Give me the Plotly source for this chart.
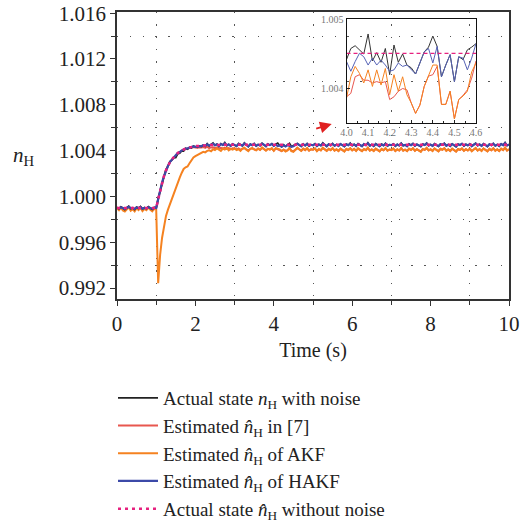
import numpy as np
import plotly.graph_objects as go

# ---------------- data ----------------
N_SAMPLES = 201  # 0 .. 10 s, 0.05 s step
TIME = np.round(np.arange(N_SAMPLES) * 0.05, 2)

ACTUAL_NOISY = [
    0.99905, 0.99892, 0.99910, 0.99898, 0.99884, 0.99902, 0.99915, 0.99893, 0.99900, 0.99886,
    0.99908, 0.99896, 0.99912, 0.99889, 0.99903, 0.99894, 0.99911, 0.99897, 0.99887, 0.99905,
    0.99898, 0.99982, 1.00048, 1.00130, 1.00175, 1.00235, 1.00262, 1.00305, 1.00318, 1.00340,
    1.00338, 1.00372, 1.00376, 1.00398, 1.00395, 1.00420, 1.00412, 1.00430, 1.00422, 1.00440,
    1.00435, 1.00428, 1.00442, 1.00436, 1.00450, 1.00438, 1.00462, 1.00440, 1.00455, 1.00468,
    1.00445, 1.00458, 1.00437, 1.00462, 1.00449, 1.00471, 1.00444, 1.00456, 1.00439, 1.00460,
    1.00448, 1.00437, 1.00463, 1.00452, 1.00441, 1.00469, 1.00446, 1.00434, 1.00458, 1.00447,
    1.00462, 1.00439, 1.00454, 1.00443, 1.00466, 1.00450, 1.00436, 1.00459, 1.00448, 1.00461,
    1.00442, 1.00457, 1.00466, 1.00445, 1.00432, 1.00452, 1.00438, 1.00449, 1.00464, 1.00436,
    1.00444, 1.00455, 1.00462, 1.00448, 1.00437, 1.00459, 1.00444, 1.00463, 1.00440, 1.00452,
    1.00446, 1.00461, 1.00438, 1.00455, 1.00443, 1.00468, 1.00450, 1.00436, 1.00457, 1.00445,
    1.00463, 1.00441, 1.00454, 1.00439, 1.00460, 1.00448, 1.00435, 1.00458, 1.00447, 1.00466,
    1.00443, 1.00456, 1.00439, 1.00462, 1.00450, 1.00437, 1.00459, 1.00446, 1.00470, 1.00441,
    1.00453, 1.00438, 1.00461, 1.00449, 1.00436, 1.00457, 1.00445, 1.00464, 1.00440, 1.00452,
    1.00447, 1.00460, 1.00438, 1.00455, 1.00444, 1.00466, 1.00442, 1.00451, 1.00437, 1.00459,
    1.00448, 1.00463, 1.00440, 1.00456, 1.00445, 1.00434, 1.00458, 1.00449, 1.00467, 1.00443,
    1.00454, 1.00439, 1.00461, 1.00447, 1.00436, 1.00458, 1.00450, 1.00465, 1.00441, 1.00453,
    1.00438, 1.00460, 1.00446, 1.00433, 1.00457, 1.00449, 1.00462, 1.00440, 1.00455, 1.00444,
    1.00459, 1.00437, 1.00452, 1.00466, 1.00443, 1.00456, 1.00439, 1.00461, 1.00448, 1.00435,
    1.00458, 1.00446, 1.00463, 1.00441, 1.00454, 1.00438, 1.00460, 1.00447, 1.00472, 1.00443, 1.00455,
]

EST_REF7 = [
    0.99903, 0.99895, 0.99908, 0.99896, 0.99888, 0.99901, 0.99911, 0.99895, 0.99900, 0.99889,
    0.99906, 0.99897, 0.99909, 0.99891, 0.99901, 0.99895, 0.99908, 0.99898, 0.99890, 0.99903,
    0.99899, 0.99978, 1.00053, 1.00126, 1.00177, 1.00232, 1.00264, 1.00302, 1.00320, 1.00342,
    1.00350, 1.00376, 1.00382, 1.00400, 1.00402, 1.00416, 1.00416, 1.00426, 1.00425, 1.00432,
    1.00428, 1.00425, 1.00430, 1.00427, 1.00432, 1.00424, 1.00435, 1.00422, 1.00428, 1.00430,
    1.00420, 1.00428, 1.00418, 1.00425, 1.00417, 1.00426, 1.00415, 1.00422, 1.00413, 1.00420,
    1.00418, 1.00410, 1.00420, 1.00408, 1.00415, 1.00422, 1.00410, 1.00402, 1.00416, 1.00420,
    1.00412, 1.00405, 1.00417, 1.00408, 1.00423, 1.00413, 1.00403, 1.00415, 1.00410, 1.00418,
    1.00400, 1.00419, 1.00412, 1.00409, 1.00396, 1.00408, 1.00399, 1.00404, 1.00420, 1.00398,
    1.00395, 1.00406, 1.00422, 1.00412, 1.00400, 1.00416, 1.00406, 1.00419, 1.00402, 1.00411,
    1.00409, 1.00418, 1.00398, 1.00413, 1.00404, 1.00422, 1.00410, 1.00400, 1.00415, 1.00405,
    1.00420, 1.00402, 1.00411, 1.00398, 1.00416, 1.00407, 1.00395, 1.00413, 1.00406, 1.00419,
    1.00404, 1.00415, 1.00400, 1.00418, 1.00409, 1.00397, 1.00413, 1.00405, 1.00423, 1.00402,
    1.00411, 1.00399, 1.00416, 1.00406, 1.00395, 1.00413, 1.00404, 1.00420, 1.00401, 1.00410,
    1.00406, 1.00417, 1.00398, 1.00411, 1.00402, 1.00420, 1.00401, 1.00409, 1.00397, 1.00415,
    1.00406, 1.00419, 1.00400, 1.00412, 1.00404, 1.00393, 1.00413, 1.00407, 1.00421, 1.00403,
    1.00411, 1.00399, 1.00417, 1.00405, 1.00395, 1.00414, 1.00408, 1.00420, 1.00401, 1.00410,
    1.00398, 1.00416, 1.00404, 1.00393, 1.00412, 1.00406, 1.00418, 1.00400, 1.00412, 1.00403,
    1.00415, 1.00397, 1.00410, 1.00421, 1.00402, 1.00413, 1.00399, 1.00417, 1.00406, 1.00395,
    1.00414, 1.00404, 1.00419, 1.00401, 1.00411, 1.00398, 1.00416, 1.00405, 1.00424, 1.00402, 1.00412,
]

EST_AKF = [
    0.99895, 0.99880, 0.99902, 0.99878, 0.99868, 0.99890, 0.99905, 0.99875, 0.99888, 0.99870,
    0.99898, 0.99882, 0.99900, 0.99872, 0.99892, 0.99880, 0.99903, 0.99884, 0.99870, 0.99893,
    0.99885, 0.99242, 0.99490, 0.99640, 0.99750, 0.99830, 0.99885, 0.99935, 0.99985, 1.00030,
    1.00075, 1.00120, 1.00165, 1.00205, 1.00240, 1.00255, 1.00262, 1.00290, 1.00318, 1.00340,
    1.00352, 1.00360, 1.00372, 1.00378, 1.00390, 1.00385, 1.00398, 1.00402, 1.00395, 1.00412,
    1.00405, 1.00420, 1.00408, 1.00398, 1.00418, 1.00410, 1.00425, 1.00403, 1.00415, 1.00408,
    1.00420, 1.00405, 1.00412, 1.00398, 1.00418, 1.00425, 1.00408, 1.00395, 1.00415, 1.00422,
    1.00410, 1.00402, 1.00418, 1.00406, 1.00428, 1.00412, 1.00400, 1.00416, 1.00409, 1.00421,
    1.00398, 1.00422, 1.00417, 1.00410, 1.00396, 1.00408, 1.00392, 1.00401, 1.00424, 1.00395,
    1.00390, 1.00405, 1.00426, 1.00410, 1.00398, 1.00418, 1.00405, 1.00422, 1.00400, 1.00412,
    1.00408, 1.00420, 1.00395, 1.00414, 1.00402, 1.00425, 1.00410, 1.00398, 1.00416, 1.00404,
    1.00422, 1.00400, 1.00412, 1.00396, 1.00418, 1.00407, 1.00392, 1.00415, 1.00405, 1.00421,
    1.00402, 1.00416, 1.00398, 1.00420, 1.00409, 1.00395, 1.00414, 1.00404, 1.00426, 1.00400,
    1.00411, 1.00397, 1.00418, 1.00406, 1.00393, 1.00415, 1.00403, 1.00422, 1.00399, 1.00410,
    1.00405, 1.00419, 1.00396, 1.00412, 1.00401, 1.00423, 1.00399, 1.00409, 1.00395, 1.00417,
    1.00406, 1.00421, 1.00398, 1.00413, 1.00403, 1.00390, 1.00415, 1.00407, 1.00424, 1.00401,
    1.00412, 1.00397, 1.00419, 1.00405, 1.00393, 1.00416, 1.00408, 1.00422, 1.00399, 1.00411,
    1.00396, 1.00418, 1.00404, 1.00391, 1.00414, 1.00406, 1.00420, 1.00398, 1.00413, 1.00402,
    1.00417, 1.00395, 1.00410, 1.00424, 1.00401, 1.00414, 1.00397, 1.00419, 1.00406, 1.00393,
    1.00416, 1.00404, 1.00421, 1.00399, 1.00412, 1.00396, 1.00418, 1.00405, 1.00427, 1.00401, 1.00413,
]

EST_HAKF = [
    0.99902, 0.99896, 0.99906, 0.99894, 0.99890, 0.99900, 0.99909, 0.99897, 0.99901, 0.99891,
    0.99904, 0.99899, 0.99907, 0.99893, 0.99900, 0.99896, 0.99906, 0.99899, 0.99892, 0.99902,
    0.99900, 0.99976, 1.00055, 1.00124, 1.00178, 1.00230, 1.00266, 1.00300, 1.00322, 1.00345,
    1.00360, 1.00380, 1.00388, 1.00402, 1.00407, 1.00418, 1.00420, 1.00428, 1.00430, 1.00437,
    1.00432, 1.00433, 1.00440, 1.00439, 1.00447, 1.00442, 1.00455, 1.00444, 1.00452, 1.00460,
    1.00447, 1.00455, 1.00441, 1.00457, 1.00450, 1.00463, 1.00446, 1.00454, 1.00442, 1.00456,
    1.00449, 1.00441, 1.00458, 1.00451, 1.00444, 1.00462, 1.00448, 1.00438, 1.00455, 1.00447,
    1.00458, 1.00442, 1.00452, 1.00445, 1.00461, 1.00450, 1.00440, 1.00456, 1.00448, 1.00457,
    1.00441, 1.00452, 1.00440, 1.00446, 1.00434, 1.00447, 1.00436, 1.00450, 1.00444, 1.00433,
    1.00438, 1.00452, 1.00460, 1.00449, 1.00440, 1.00455, 1.00446, 1.00459, 1.00443, 1.00451,
    1.00447, 1.00457, 1.00441, 1.00453, 1.00445, 1.00462, 1.00450, 1.00440, 1.00455, 1.00446,
    1.00459, 1.00443, 1.00452, 1.00442, 1.00457, 1.00448, 1.00439, 1.00455, 1.00447, 1.00461,
    1.00445, 1.00453, 1.00442, 1.00458, 1.00450, 1.00440, 1.00456, 1.00447, 1.00464, 1.00444,
    1.00451, 1.00441, 1.00457, 1.00449, 1.00439, 1.00454, 1.00446, 1.00460, 1.00443, 1.00451,
    1.00448, 1.00456, 1.00441, 1.00453, 1.00445, 1.00461, 1.00444, 1.00450, 1.00440, 1.00456,
    1.00448, 1.00459, 1.00443, 1.00453, 1.00446, 1.00438, 1.00455, 1.00449, 1.00462, 1.00445,
    1.00452, 1.00442, 1.00458, 1.00447, 1.00439, 1.00455, 1.00450, 1.00461, 1.00444, 1.00452,
    1.00441, 1.00457, 1.00447, 1.00437, 1.00454, 1.00449, 1.00459, 1.00443, 1.00453, 1.00446,
    1.00456, 1.00440, 1.00451, 1.00462, 1.00445, 1.00454, 1.00442, 1.00458, 1.00448, 1.00438,
    1.00455, 1.00447, 1.00460, 1.00443, 1.00452, 1.00441, 1.00457, 1.00448, 1.00466, 1.00445, 1.00453,
]

TRUE_T = [0, 1.0, 1.05, 1.1, 1.15, 1.2, 1.25, 1.3, 1.35, 1.4, 1.45, 1.5, 1.55, 1.6, 1.65,
          1.7, 1.75, 1.8, 1.85, 1.9, 1.95, 2.0, 2.1, 2.2, 2.3, 2.4, 2.6, 3.0, 10.0]
TRUE_V = [0.99900, 0.99900, 0.99975, 1.00052, 1.00122, 1.00180, 1.00228, 1.00267, 1.00298,
          1.00324, 1.00346, 1.00364, 1.00379, 1.00391, 1.00401, 1.00410, 1.00417, 1.00423,
          1.00428, 1.00432, 1.00436, 1.00439, 1.00443, 1.00446, 1.00448, 1.00449, 1.00450,
          1.00451, 1.00451]

# zoomed inset, 4.0 .. 4.6 s at 0.02 s
INSET_T = [4.00, 4.02, 4.04, 4.06, 4.08, 4.10, 4.12, 4.14, 4.16, 4.18, 4.20, 4.22, 4.24, 4.26,
           4.28, 4.30, 4.32, 4.34, 4.36, 4.38, 4.40, 4.42, 4.44, 4.46, 4.48, 4.50, 4.52, 4.54,
           4.56, 4.58, 4.60]
INSET_BLACK = [1.00442, 1.00458, 1.00462, 1.00456, 1.00450, 1.00479, 1.00440, 1.00452, 1.00438,
               1.00458, 1.00420, 1.00463, 1.00438, 1.00450, 1.00434, 1.00430, 1.00421, 1.00437,
               1.00453, 1.00460, 1.00476, 1.00461, 1.00417, 1.00434, 1.00449, 1.00410, 1.00446,
               1.00442, 1.00456, 1.00460, 1.00465]
INSET_BLUE = [1.00439, 1.00425, 1.00439, 1.00451, 1.00446, 1.00434, 1.00444, 1.00434, 1.00441,
              1.00434, 1.00425, 1.00427, 1.00437, 1.00432, 1.00434, 1.00427, 1.00421, 1.00437,
              1.00453, 1.00458, 1.00437, 1.00461, 1.00417, 1.00434, 1.00449, 1.00410, 1.00446,
              1.00444, 1.00427, 1.00444, 1.00465]
INSET_ORANGE = [1.00386, 1.00417, 1.00432, 1.00422, 1.00408, 1.00427, 1.00403, 1.00427, 1.00405,
                1.00429, 1.00391, 1.00420, 1.00396, 1.00417, 1.00391, 1.00379, 1.00364, 1.00376,
                1.00403, 1.00420, 1.00434, 1.00434, 1.00377, 1.00377, 1.00396, 1.00356, 1.00384,
                1.00389, 1.00396, 1.00424, 1.00437]
INSET_RED = [1.00388, 1.00393, 1.00417, 1.00420, 1.00412, 1.00412, 1.00408, 1.00410, 1.00408,
             1.00410, 1.00384, 1.00388, 1.00396, 1.00400, 1.00398, 1.00379, 1.00364, 1.00376,
             1.00403, 1.00418, 1.00420, 1.00432, 1.00377, 1.00377, 1.00396, 1.00356, 1.00384,
             1.00390, 1.00398, 1.00415, 1.00440]
INSET_TRUE_T = [4.0, 4.6]
INSET_TRUE_V = [1.00451, 1.00451]

NAMES = [
    "Actual state <i>n</i><sub>H</sub> with noise",
    "Estimated <i>n\u0302</i><sub>H</sub> in [7]",
    "Estimated <i>n\u0302</i><sub>H</sub> of AKF",
    "Estimated <i>n\u0302</i><sub>H</sub> of HAKF",
    "Actual state <i>n\u0302</i><sub>H</sub> without noise",
]
Y_TICKS = [0.992, 0.996, 1.000, 1.004, 1.008, 1.012, 1.016]
X_TICKS = [0, 2, 4, 6, 8, 10]
INSET_X_TICKS = [4.0, 4.1, 4.2, 4.3, 4.4, 4.5, 4.6]
INSET_Y_TICKS = [1.004, 1.005]

# ---------------- styling ----------------
C_BLACK = "#222222"
C_RED = "#e8574f"
C_ORANGE = "#f58220"
C_BLUE = "#3c4aa8"
C_PINK = "#e6217f"
FONT = "Liberation Serif"
AX = "#333333"
GRID = "#555555"

fig = go.Figure()

fig.add_trace(go.Scatter(x=TIME, y=EST_REF7, mode="lines", name=NAMES[1],
                         line=dict(color=C_RED, width=2), legendrank=2))
fig.add_trace(go.Scatter(x=TIME, y=EST_AKF, mode="lines", name=NAMES[2],
                         line=dict(color=C_ORANGE, width=2), legendrank=3))
fig.add_trace(go.Scatter(x=TIME, y=ACTUAL_NOISY, mode="lines", name=NAMES[0],
                         line=dict(color=C_BLACK, width=1.6), legendrank=1))
fig.add_trace(go.Scatter(x=TIME, y=EST_HAKF, mode="lines", name=NAMES[3],
                         line=dict(color=C_BLUE, width=2.2), legendrank=4))
fig.add_trace(go.Scatter(x=TRUE_T, y=TRUE_V, mode="lines", name=NAMES[4],
                         line=dict(color=C_PINK, width=2.5, dash="3px,4px"), legendrank=5))

# inset
fig.add_trace(go.Scatter(x=INSET_T, y=INSET_RED, mode="lines", showlegend=False,
                         line=dict(color=C_RED, width=1), xaxis="x2", yaxis="y2"))
fig.add_trace(go.Scatter(x=INSET_T, y=INSET_ORANGE, mode="lines", showlegend=False,
                         line=dict(color=C_ORANGE, width=1), xaxis="x2", yaxis="y2"))
fig.add_trace(go.Scatter(x=INSET_T, y=INSET_BLACK, mode="lines", showlegend=False,
                         line=dict(color="#333333", width=1), xaxis="x2", yaxis="y2"))
fig.add_trace(go.Scatter(x=INSET_T, y=INSET_BLUE, mode="lines", showlegend=False,
                         line=dict(color="#5562b5", width=1), xaxis="x2", yaxis="y2"))
fig.add_trace(go.Scatter(x=INSET_TRUE_T, y=INSET_TRUE_V, mode="lines", showlegend=False,
                         line=dict(color=C_PINK, width=1.3, dash="4px,3px"), xaxis="x2", yaxis="y2"))

fig.update_layout(
    width=527, height=523,
    margin=dict(l=117, r=18, t=12, b=224, autoexpand=False),
    paper_bgcolor="white", plot_bgcolor="rgba(0,0,0,0)",
    font=dict(family=FONT, size=20, color="#222222"),
    xaxis=dict(
        range=[0, 10], tickvals=X_TICKS, ticks="outside", ticklen=5, tickwidth=1.2,
        tickcolor=AX, showline=True, linecolor=AX, linewidth=1.5, mirror=True,
        showgrid=False, zeroline=False, tickfont=dict(size=21),
        title=dict(text="Time (s)", font=dict(size=20), standoff=8),
        minor=dict(tickvals=[1, 3, 5, 7, 9], ticks="outside", ticklen=4, tickcolor=AX,
                   showgrid=True, gridcolor=GRID, griddash="1.3px,11px", gridwidth=1.3),
    ),
    yaxis=dict(
        range=[0.99105, 1.0161], tickvals=Y_TICKS, tickformat=".3f", ticks="outside",
        ticklen=5, tickwidth=1.2, tickcolor=AX, showline=True, linecolor=AX, linewidth=1.5,
        mirror=True, showgrid=False, zeroline=False, tickfont=dict(size=21),
        minor=dict(tickvals=[0.994, 0.998, 1.002, 1.006, 1.010, 1.014], ticks="outside",
                   ticklen=4, tickcolor=AX, showgrid=True, gridcolor=GRID,
                   griddash="1.3px,11.5px", gridwidth=1.3),
    ),
    xaxis2=dict(
        domain=[0.5855, 0.9158], anchor="y2", range=[4.0, 4.6], tickvals=INSET_X_TICKS,
        tickformat=".1f", ticks="inside", ticklen=3, tickcolor="#222", showline=True,
        linecolor="#111", linewidth=1.2, mirror=True, showgrid=False, zeroline=False,
        tickfont=dict(size=10, color="#777777"),
        minor=dict(dtick=0.05, ticks="inside", ticklen=2, tickcolor="#222"),
    ),
    yaxis2=dict(
        domain=[0.6132, 0.9739], anchor="x2", range=[1.0035, 1.005], tickvals=INSET_Y_TICKS,
        tickformat=".3f", ticks="inside", ticklen=3, tickcolor="#222", showline=True,
        linecolor="#111", linewidth=1.2, mirror=True, showgrid=False, zeroline=False,
        tickfont=dict(size=10, color="#777777"),
    ),
    showlegend=True,
    legend=dict(
        x=-0.0102, y=-0.2788, xanchor="left", yanchor="top", orientation="v",
        font=dict(family=FONT, size=19, color="#222222"), bgcolor="rgba(0,0,0,0)",
        traceorder="normal", itemwidth=40, tracegroupgap=0,
    ),
    annotations=[
        dict(text="<i>n</i><sub>H</sub>", xref="paper", yref="paper", x=-0.237, y=0.5,
             xanchor="center", yanchor="middle", showarrow=False,
             font=dict(family=FONT, size=21, color="#222222")),
        dict(text="", xref="paper", yref="paper", x=0.5477, y=0.6098, ax=-17, ay=5,
             showarrow=True, arrowhead=2, arrowsize=1.3, arrowwidth=1.8, arrowcolor="#e02020"),
    ],
)

fig.write_html("out.html", config=dict(displayModeBar=False))
